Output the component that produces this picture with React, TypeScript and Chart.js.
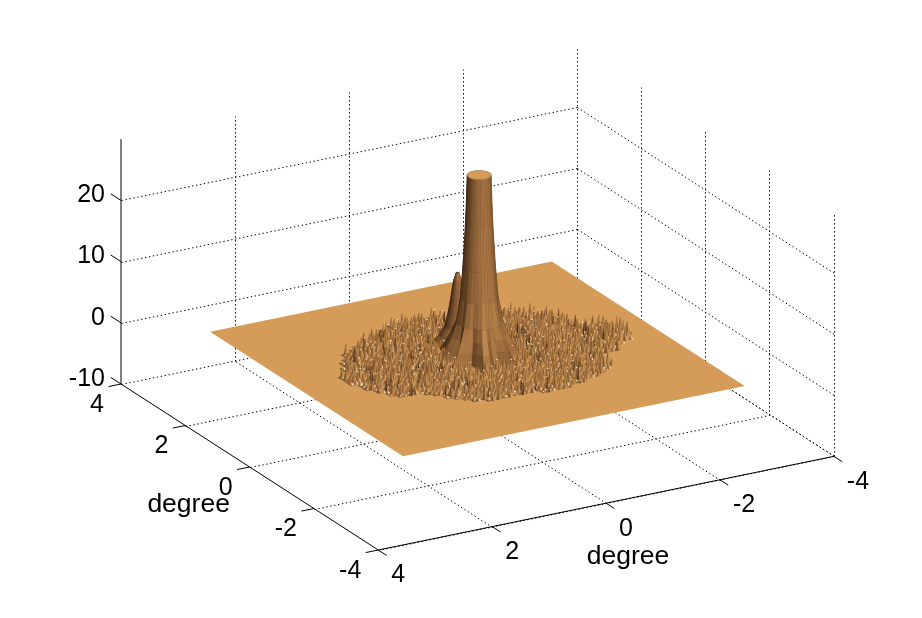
import React, { useEffect, useRef } from "react";
import { Chart, registerables } from "chart.js";

Chart.register(...registerables);

// ---------- axis data ----------
const xTicks = [4, 2, 0, -2, -4];
const yTicks = [4, 2, 0, -2, -4];
const zTicks = [-10, 0, 10, 20];
const zTop = 30;
const axisTitle = "degree";
const plateLimit = 3;

// ---------- outline of the rough region on the plate, [x, y] degrees ----------
const roughOutline = [
  [2.23, 0.26], [1.77, 1.05], [1.47, 1.27], [0.95, 1.56], [0.42, 1.88], [0.0, 1.89],
  [-0.47, 1.77], [-1.29, 1.49], [-1.61, 1.22], [-1.88, 0.97], [-1.97, 0.39], [-2.32, 0.39],
  [-2.58, 0.04], [-2.47, -0.37], [-2.15, -0.53], [-1.95, -0.76], [-1.58, -0.79], [-1.69, -1.14],
  [-1.41, -1.41], [-1.03, -1.59], [-0.66, -1.71], [-0.23, -1.76], [0.04, -1.61], [0.58, -1.64],
  [0.94, -1.53], [1.21, -1.19], [1.46, -0.9], [1.83, -0.84], [2.07, -0.42], [2.23, 0.01],
];

// ---------- spike heights: one digit per 0.1 degree, x from 2.4 down, y from 1.9 down ----------
const roughHeights = [
  "35172941638250476139582743160925847316204958172634",
  "72406183957342618057294631805427391650824736195042",
  "14839562071846329507186342970518364279158063427915",
  "60257394186053742819046357192864035718926407153862",
  "48316027594173860925371468205793146820597314826057",
  "93725146802596413780264951378602459713860249517368",
  "27061854391738250964813075926483170592648317059246",
  "51948360722964185037294618507392461850739264185073",
  "86304719258037426915803642971580364297158036429715",
  "39582604171956283407618925340761892534076189253407",
  "04176952838241705639287015463928701546392870154639",
  "75823140969360824715036982471503698247150369824715",
  "18490627352714096385261740938526174093852617409385",
  "62951738040587362914705836291470583629147058362914",
  "43078296155196472083694120758369412075836941207583",
  "97216483050832719546318027946531802794653180279465",
  "20865971346475108392750613982475061398247506139824",
  "54730218697128694350972483160597248316059724831605",
  "81349672056903521784162905374816290537481629053748",
  "36097524818245073169485271036948527103694852710369",
  "70528146396710942538063179425806317942580631794258",
  "15862903474356187029531460827953146082795314608279",
  "98241760533982560417206938751420693875142069387514",
  "42670318952107348956814325097681432509768143250976",
  "67315928049564023187950471286395047128639504712863",
  "03984172568235719640328596104732859610473285961047",
  "59126847301870465293741063985274106398527410639852",
  "24753096186496201875069382147506938214750693821475",
  "81607432959013587624953178046295317804629531780462",
  "36491582707345926018264709153826470915382647091538",
  "72058364199681042735180643972518064397251806439725",
  "49326170852507694138537291460853729146085372914608",
  "13785940264136825079602817345960281734596028173459",
  "60942815377290348516946503172894650317289465031728",
  "85271039641758163042371925680437192568043719256804",
  "27613548090826497153085164392708516439270851643927",
  "94058726313461902875742390618574239061857423906185",
  "31846095727095638124196857230419685723041968572304",
];

// ---------- central column: height and radius rings ----------
const towerCenter = [-0.03, 0.0];
const towerZ = [30, 26, 22, 15, 10, 6, 4, 2.4, 1.3, 0.5, 0];
const towerR = [0.183, 0.195, 0.21, 0.25, 0.29, 0.35, 0.4, 0.46, 0.51, 0.56, 0.62];
const towerFlare = [0, 0, 0, 0.05, 0.1, 0.4, 0.8, 1, 1, 1, 1];
const towerDim = [0.1, 0.1, 0.1, 0.1, 0.1, 0.12, 0.16, 0.22, 0.25, 0.25];
const towerFins = [
  1.0, 1.12, 0.95, 0.86, 1.05, 1.2, 0.9, 0.82, 1.1, 1.02, 0.88, 1.16, 0.94, 0.8, 1.08, 1.22,
  0.92, 0.84, 1.14, 1.0, 0.86, 1.1, 1.2, 0.9, 0.84, 1.06, 1.18, 0.96, 0.82, 1.04, 1.14, 0.9,
];

// ---------- side peak ----------
const peakCenter = [-0.03, 0.67];
const peakZ = [11.8, 10.5, 9, 7, 5, 3, 1.5, 0];
const peakR = [0.02, 0.06, 0.085, 0.115, 0.15, 0.2, 0.28, 0.42];
const peakDim = 0.2;

// ---------- colour ramp ----------
const plateColor = "rgb(212,155,89)";
const speckColor = "rgb(255,244,224)";
const rampAt = [0, 0.25, 0.5, 0.75, 0.86, 1];
const rampRGB = [
  [64, 40, 20], [104, 70, 38], [156, 108, 62], [212, 155, 89], [246, 214, 170], [255, 246, 230],
];

// ---------- projection from degrees to the picture ----------
type V3 = [number, number, number];
const P = (x: number, y: number, z: number) => ({
  x: 121 + (4 - y) * 32.16 + (4 - x) * 56.94,
  y: 384 + (4 - y) * 20.75 - (4 - x) * 11.71 - (z + 10) * 6.12,
});
const snap = (p: { x: number; y: number }) => ({ x: Math.round(p.x) + 0.5, y: Math.round(p.y) + 0.5 });

const viewH = [0.49, -0.87];
const rightH = [-0.87, -0.49];
const L = (() => {
  const v = [viewH[0] * 0.52 + rightH[0] * 0.25, viewH[1] * 0.52 + rightH[1] * 0.25, 0.75];
  const n = Math.hypot(v[0], v[1], v[2]);
  return v.map((c) => c / n);
})();

function ramp(t0: number) {
  const t = Math.max(0, Math.min(1, t0));
  let i = 0;
  while (i < rampAt.length - 2 && t > rampAt[i + 1]) i++;
  const f = (t - rampAt[i]) / (rampAt[i + 1] - rampAt[i]);
  const col = rampRGB[i].map((k, j) => Math.round(k + (rampRGB[i + 1][j] - k) * f));
  return `rgb(${col[0]},${col[1]},${col[2]})`;
}

function shade(pts: V3[], dim = 0) {
  const a = pts[0], b = pts[1], c = pts[2], d = pts[pts.length - 1];
  const u = [c[0] - a[0], c[1] - a[1], (c[2] - a[2]) * 0.1];
  const w = [d[0] - b[0], d[1] - b[1], (d[2] - b[2]) * 0.1];
  let n = [u[1] * w[2] - u[2] * w[1], u[2] * w[0] - u[0] * w[2], u[0] * w[1] - u[1] * w[0]];
  if (n[2] < 0) n = n.map((k) => -k);
  const m = Math.hypot(n[0], n[1], n[2]) || 1;
  const v = (n[0] * L[0] + n[1] * L[1] + n[2] * L[2]) / m;
  return ramp(0.15 + (0.6 * v) / L[2] - dim);
}

function inside(x: number, y: number) {
  let hit = false;
  for (let i = 0, j = roughOutline.length - 1; i < roughOutline.length; j = i++) {
    const [xi, yi] = roughOutline[i];
    const [xj, yj] = roughOutline[j];
    if (yi > y !== yj > y && x < ((xj - xi) * (y - yi)) / (yj - yi) + xi) hit = !hit;
  }
  return hit;
}

const cellX = (c: number) => 2.4 - c * 0.1;
const cellY = (r: number) => 1.9 - r * 0.1;
const digit = (r: number, c: number) => Number((roughHeights[r] || "")[c] || 0);
const isRough = (r: number, c: number) => {
  if (r < 0 || c < 0 || r >= roughHeights.length || c >= roughHeights[0].length) return false;
  const x = cellX(c);
  const y = cellY(r);
  if (!inside(x, y)) return false;
  if (Math.hypot(x - towerCenter[0], y - towerCenter[1]) < 0.3) return false;
  if (Math.hypot(x - peakCenter[0], y - peakCenter[1]) < 0.18) return false;
  return true;
};

function buildFacets() {
  const out: { pts: V3[]; key: number; color: string }[] = [];
  const push = (pts: V3[], color?: string, bias = 0, dim = 0) => {
    const cx = pts.reduce((s, p) => s + p[0], 0) / pts.length;
    const cy = pts.reduce((s, p) => s + p[1], 0) / pts.length;
    out.push({ pts, key: P(cx, cy, 0).y + bias, color: color || shade(pts, dim) });
  };
  const spike = (x: number, y: number, d: number, e: number, g: number) => {
    const z = 0.3 + d * 0.18;
    const b = 0.022 + e * 0.0025;
    const tip: V3 = [x + (e - 4.5) * 0.005, y + (g - 4.5) * 0.005, z];
    const lf: V3 = [x - rightH[0] * b, y - rightH[1] * b, 0.1];
    const rt: V3 = [x + rightH[0] * b, y + rightH[1] * b, 0.1];
    const fr: V3 = [x + viewH[0] * b, y + viewH[1] * b, 0.1];
    push([lf, fr, tip]);
    push([fr, rt, tip]);
    return z;
  };
  const cols = roughHeights[0].length;
  for (let r = 0; r < roughHeights.length; r++) {
    for (let c = 0; c < cols; c++) {
      if (!isRough(r, c)) continue;
      const d = digit(r, c);
      const e = digit(r, c + 1);
      const g = digit(r + 1, c);
      const x = cellX(c);
      const y = cellY(r);
      // mottled floor of the rough region
      const h = 0.052;
      push(
        [[x + h, y + h, 0.1], [x - h, y + h, 0.1], [x - h, y - h, 0.1], [x + h, y - h, 0.1]],
        ramp(0.52 - 0.035 * g),
        -4
      );
      // two thin spikes per cell, the second read from the mirrored column
      const z = spike(x, y, d, e, g);
      spike(x - 0.05, y - 0.05, digit(r, cols - 1 - c), g, e);
      // pale specks at some spike tips and around the edge of the region
      const edge = !isRough(r, c - 1) || !isRough(r, c + 1) || !isRough(r - 1, c) || !isRough(r + 1, c);
      if (d === 9 || (edge && d % 2 === 0)) {
        const sz = edge ? 0.1 : z;
        const s = 0.014;
        push([[x + s, y, sz], [x, y + s, sz], [x - s, y, sz], [x, y - s, sz]], speckColor, 1);
      }
    }
  }
  const n = towerFins.length;
  const ring = (k: number, s: number): V3 => {
    const a = (2 * Math.PI * (s % n)) / n;
    const rad = towerR[k] * (1 + (towerFins[s % n] - 1) * towerFlare[k]);
    return [towerCenter[0] + rad * Math.cos(a), towerCenter[1] + rad * Math.sin(a), towerZ[k]];
  };
  for (let k = 0; k < towerZ.length - 1; k++)
    for (let s = 0; s < n; s++)
      push([ring(k, s), ring(k, s + 1), ring(k + 1, s + 1), ring(k + 1, s)], undefined, 0, towerDim[k]);
  const pn = 20;
  const pring = (k: number, s: number): V3 => {
    const a = (2 * Math.PI * s) / pn;
    return [peakCenter[0] + peakR[k] * Math.cos(a), peakCenter[1] + peakR[k] * Math.sin(a), peakZ[k]];
  };
  for (let k = 0; k < peakZ.length - 1; k++)
    for (let s = 0; s < pn; s++)
      push([pring(k, s), pring(k, s + 1), pring(k + 1, s + 1), pring(k + 1, s)], undefined, 0, peakDim);
  out.sort((a, b) => a.key - b.key);
  return { facets: out, ring };
}

function buildDatasets() {
  const ds: any[] = [];
  const line = (a: V3, b: V3, dotted: boolean) => {
    const pa = P(a[0], a[1], a[2]);
    const pb = P(b[0], b[1], b[2]);
    ds.push({
      data: dotted ? [snap(pa), snap(pb)] : [pa, pb],
      showLine: true,
      pointRadius: 0,
      borderColor: "#000",
      borderWidth: 1,
      borderDash: dotted ? [1.4, 2.6] : [],
      fill: false,
    });
  };
  // back walls and floor
  xTicks.slice(1).forEach((x) => {
    line([x, -4, -10], [x, 4, -10], true);
    line([x, 4, -10], [x, 4, zTop], true);
  });
  yTicks.slice(1).forEach((y) => {
    line([4, y, -10], [-4, y, -10], true);
    line([-4, y, -10], [-4, y, zTop], true);
  });
  zTicks.forEach((z) => {
    line([4, 4, z], [-4, 4, z], true);
    line([-4, 4, z], [-4, -4, z], true);
  });
  // axes
  line([4, 4, -10], [4, 4, zTop], false);
  line([4, 4, -10], [4, -4, -10], false);
  line([4, -4, -10], [-4, -4, -10], false);
  zTicks.forEach((z) => line([4, 4, z], [4, 4.32, z], false));
  yTicks.forEach((y) => line([4, y, -10], [4.22, y, -10], false));
  xTicks.forEach((x) => line([x, -4, -10], [x, -4.26, -10], false));
  // plate
  const lim = plateLimit;
  const poly = (pts: V3[], color: string, w: number) =>
    ds.push({
      data: pts.map((p) => P(p[0], p[1], p[2])),
      showLine: true,
      pointRadius: 0,
      backgroundColor: color,
      borderColor: color,
      borderWidth: w,
      borderDash: [1000, 0],
      fill: "shape",
    });
  poly([[lim, lim, 0], [-lim, lim, 0], [-lim, -lim, 0], [lim, -lim, 0], [lim, lim, 0]], plateColor, 0);
  const { facets, ring } = buildFacets();
  facets.forEach((f) => poly([...f.pts, f.pts[0]], f.color, 0.3));
  // flat top of the column
  const cap: V3[] = towerFins.map((_, s) => ring(0, s));
  poly([...cap, cap[0]], plateColor, 0.4);
  return ds.reverse();
}

const textPlugin = {
  id: "axisText",
  afterDatasetsDraw(chart: any) {
    const { ctx, scales } = chart;
    const at = (p: { x: number; y: number }) => ({
      x: scales.x.getPixelForValue(p.x),
      y: scales.y.getPixelForValue(p.y),
    });
    ctx.save();
    ctx.fillStyle = "#000";
    ctx.font = '25px "Liberation Sans", Arial, sans-serif';
    ctx.textBaseline = "middle";
    ctx.textAlign = "right";
    zTicks.forEach((z) => {
      const p = at(P(4, 4, z));
      ctx.fillText(String(z), p.x - 16, p.y - 5);
    });
    yTicks.forEach((y) => {
      const p = at(P(4, y, -10));
      ctx.fillText(String(y), p.x - 17, p.y + 21);
    });
    ctx.textAlign = "left";
    xTicks.forEach((x) => {
      const p = at(P(x, -4, -10));
      ctx.fillText(String(x), p.x + 13, p.y + 25.5);
    });
    ctx.textAlign = "center";
    ctx.font = '26.5px "Liberation Sans", Arial, sans-serif';
    const yt = at(P(4, 0, -10));
    ctx.fillText(axisTitle, yt.x - 61, yt.y + 38);
    const xt = at(P(0, -4, -10));
    ctx.fillText(axisTitle, xt.x + 22, xt.y + 54);
    ctx.restore();
  },
};

export default function App() {
  const ref = useRef<HTMLCanvasElement>(null);
  useEffect(() => {
    document.body.style.margin = "0";
    document.body.style.background = "#fff";
    const chart = new Chart(ref.current as HTMLCanvasElement, {
      type: "scatter",
      data: { datasets: buildDatasets() },
      options: {
        animation: false,
        responsive: false,
        events: [],
        layout: { padding: 0 },
        plugins: { legend: { display: false }, tooltip: { enabled: false } },
        scales: {
          x: { type: "linear", min: 0, max: 922, display: false },
          y: { type: "linear", min: 0, max: 618, reverse: true, display: false },
        },
      },
      plugins: [textPlugin],
    } as any);
    return () => chart.destroy();
  }, []);
  return <canvas ref={ref} width={922} height={618} style={{ display: "block" }} />;
}
